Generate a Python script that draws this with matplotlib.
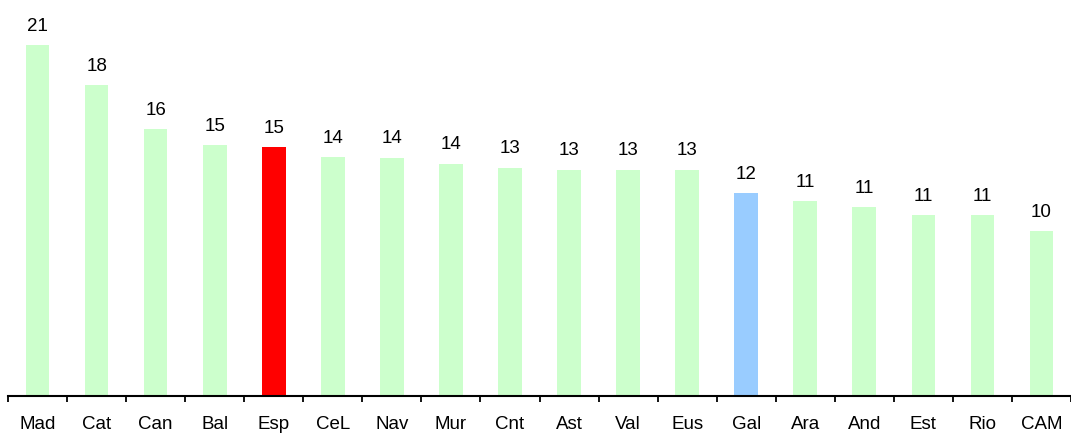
import matplotlib.pyplot as plt

plt.rcParams['font.family'] = ['Liberation Sans', 'DejaVu Sans']

# data
regions = ["Mad", "Cat", "Can", "Bal", "Esp", "CeL", "Nav", "Mur", "Cnt",
           "Ast", "Val", "Eus", "Gal", "Ara", "And", "Est", "Rio", "CAM"]
values = [20.64, 18.29, 15.69, 14.75, 14.64, 14.05, 14.02, 13.66, 13.43,
          13.31, 13.31, 13.31, 11.94, 11.47, 11.11, 10.64, 10.64, 9.7]

# highlighted bars
highlight = {"Esp": "#ff0000", "Gal": "#99ccff"}
colors = [highlight.get(r, "#ccffcc") for r in regions]

fig = plt.figure(figsize=(10.71, 4.35), dpi=100)
ax = fig.add_axes([8/1071, 38/435, 1 - 8/1071, 397/435])

x = list(range(len(regions)))
ax.bar(x, values, width=0.4, color=colors)

for i, v in enumerate(values):
    ax.annotate(f"{v:.0f}", (i, v), xytext=(0, 11), textcoords="offset points",
                ha="center", va="baseline", fontsize=13.5)

ax.set_xlim(-0.5, 17.4)
ax.set_ylim(0, 23.35)

# tick marks between categories, labels at the centres
ax.set_xticks([i - 0.5 for i in range(len(regions) + 1)])
ax.set_xticklabels([])
ax.set_xticks(x, minor=True)
ax.set_xticklabels(regions, minor=True, fontsize=13.5)
ax.tick_params(axis="x", which="major", direction="out", length=4.5, width=1.3)
ax.tick_params(axis="x", which="minor", length=0, pad=14)

ax.set_yticks([])
for s in ["top", "right", "left"]:
    ax.spines[s].set_visible(False)
ax.spines["bottom"].set_linewidth(1.5)

fig.savefig("out.png", dpi=100)
